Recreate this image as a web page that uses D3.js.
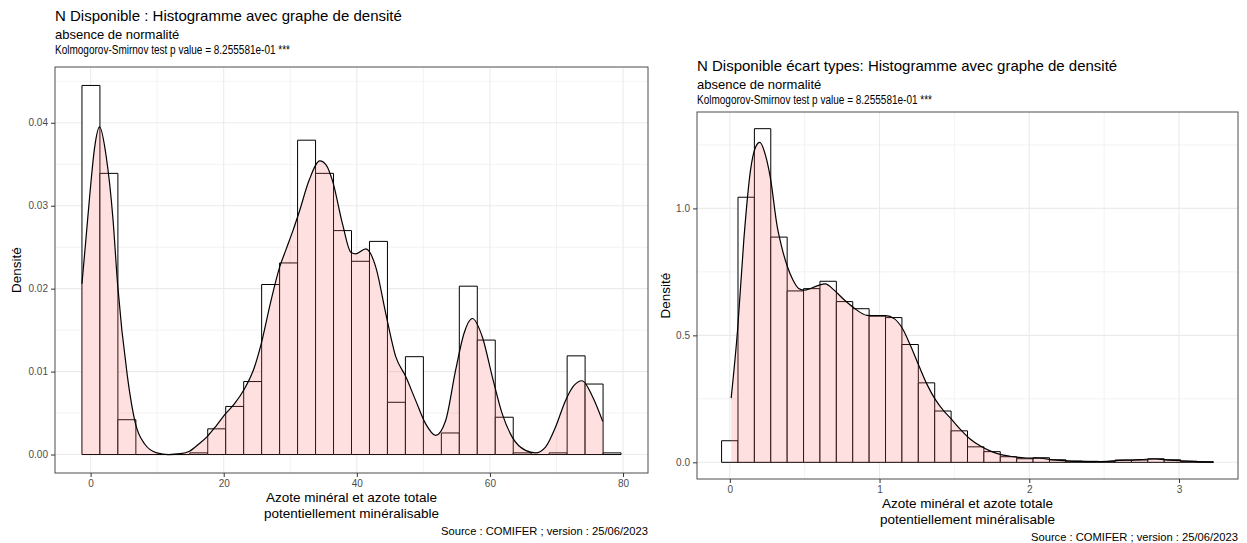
<!DOCTYPE html>
<html>
<head>
<meta charset="utf-8">
<script src="https://cdn.jsdelivr.net/npm/d3@7"></script>
<style>
  html, body { margin: 0; padding: 0; background: #fff; }
  svg text { font-family: "Liberation Sans", Arial, sans-serif; }
</style>
</head>
<body>
<svg id="chart" width="1247" height="543"></svg>
<script>
// ---- N disponible: histogram (density scale) with kernel density overlay ----
const leftBreaks = [-1.3, 1.4, 4.1, 6.8, 9.5, 12.2, 14.9, 17.6, 20.3, 23.0, 25.7, 28.4, 31.1, 33.8,
  36.5, 39.2, 41.9, 44.6, 47.3, 50.0, 52.7, 55.4, 58.1, 60.8, 63.5, 66.2, 68.9, 71.6, 74.3, 77.0, 79.7];
const leftHeights = [0.0445, 0.0339, 0.0042, 0, 0, 0, 0.0002, 0.0031, 0.0058, 0.0088, 0.0205, 0.0231,
  0.0379, 0.0339, 0.0270, 0.0233, 0.0257, 0.0063, 0.0118, 0, 0.0026, 0.0203, 0.0138, 0.0045,
  0.0002, 0, 0.0002, 0.0119, 0.0085, 0.0002];
const leftDensityX = [-1.3, -0.7, -0.1, 0.6, 1.35, 2.35, 3.35, 4.05, 5.5, 6.75, 8.1, 9.95, 11.7, 13.5,
  14.85, 16.3, 17.55, 18.9, 20.25, 21.6, 23.1, 24.6, 25.65, 27.0, 28.4, 29.4, 30.4, 31.4, 32.8,
  34.45, 35.4, 36.35, 37.85, 39.1, 39.85, 41.35, 42.85, 44.35, 45.85, 47.35, 48.85, 50.35, 51.85,
  53.35, 54.85, 56.1, 57.35, 58.85, 60.35, 61.85, 63.35, 65.35, 66.85, 68.35, 69.85, 71.35, 72.6,
  73.85, 75.35, 76.95];
const leftDensityY = [0.0206, 0.026, 0.0315, 0.037, 0.0395, 0.0359, 0.0285, 0.0206, 0.0096, 0.0037,
  0.0013, 0.0002, 0, 0.0001, 0.0004, 0.0013, 0.0022, 0.0035, 0.0049, 0.0061, 0.0079, 0.0105, 0.0134,
  0.0182, 0.0226, 0.0248, 0.027, 0.0294, 0.033, 0.0354, 0.0349, 0.033, 0.0278, 0.0244, 0.0242,
  0.0248, 0.0226, 0.017, 0.0118, 0.0094, 0.0065, 0.0037, 0.0023, 0.0041, 0.0102, 0.0146, 0.0164,
  0.0142, 0.0094, 0.0049, 0.0021, 0.0005, 0.0002, 0.0009, 0.0033, 0.0065, 0.0083, 0.0089, 0.0071,
  0.004];
const leftXTicks = [0, 20, 40, 60, 80];
const leftXMinor = [10, 30, 50, 70];
const leftYTicks = [0, 0.01, 0.02, 0.03, 0.04];
const leftYMinor = [0.005, 0.015, 0.025, 0.035, 0.045];

// ---- N disponible en écart types ----
const rightBreaks = [-0.055, 0.0545, 0.164, 0.2735, 0.383, 0.4925, 0.602, 0.7115, 0.821, 0.9305,
  1.04, 1.1495, 1.259, 1.3685, 1.478, 1.5875, 1.697, 1.8065, 1.916, 2.0255, 2.135, 2.2445, 2.354,
  2.4635, 2.573, 2.6825, 2.792, 2.9015, 3.011, 3.1205, 3.23];
const rightHeights = [0.085, 1.044, 1.314, 0.887, 0.675, 0.684, 0.713, 0.633, 0.605, 0.576, 0.570,
  0.464, 0.313, 0.202, 0.124, 0.061, 0.042, 0.022, 0.014, 0.018, 0.010, 0.005, 0.004, 0.003, 0.009,
  0.009, 0.014, 0.010, 0.004, 0.002];
const rightDensityX = [0.009, 0.053, 0.094, 0.138, 0.171, 0.2, 0.238, 0.271, 0.316, 0.35, 0.385,
  0.42, 0.46, 0.5, 0.583, 0.638, 0.693, 0.76, 0.827, 0.916, 0.97, 1.04, 1.1, 1.153, 1.208, 1.263,
  1.317, 1.372, 1.43, 1.471, 1.538, 1.605, 1.671, 1.738, 1.805, 1.893, 1.98, 2.07, 2.16, 2.25,
  2.34, 2.43, 2.52, 2.6, 2.69, 2.78, 2.84, 2.93, 3.02, 3.13, 3.23];
const rightDensityY = [0.253, 0.53, 0.88, 1.15, 1.24, 1.26, 1.21, 1.12, 0.93, 0.84, 0.77, 0.72,
  0.685, 0.678, 0.695, 0.703, 0.68, 0.642, 0.609, 0.579, 0.578, 0.578, 0.565, 0.527, 0.458, 0.38,
  0.307, 0.248, 0.202, 0.176, 0.131, 0.092, 0.065, 0.045, 0.031, 0.022, 0.017, 0.016, 0.010, 0.006,
  0.004, 0.003, 0.004, 0.008, 0.009, 0.012, 0.013, 0.009, 0.006, 0.003, 0.001];
const rightXTicks = [0, 1, 2, 3];
const rightXMinor = [0.5, 1.5, 2.5];
const rightYTicks = [0, 0.5, 1.0];
const rightYMinor = [0.25, 0.75, 1.25];

const subtitle = "absence de normalité";
const ksLine = "Kolmogorov-Smirnov test p value = 8.255581e-01 ***";
const xTitle = ["Azote minéral et azote totale", "potentiellement minéralisable"];
const yTitle = "Densité";
const caption = "Source : COMIFER ; version : 25/06/2023";

const svg = d3.select("#chart");

function drawPanel(cfg) {
  const g = svg.append("g");
  const { left, right, top, bottom } = cfg.box;

  const lo = cfg.breaks[0], hi = cfg.breaks[cfg.breaks.length - 1];
  const padX = (hi - lo) * 0.05;
  const x = d3.scaleLinear().domain([lo - padX, hi + padX]).range([left, right]);
  const ymax = d3.max(cfg.heights);
  const y = d3.scaleLinear().domain([-ymax * 0.05, ymax * 1.05]).range([bottom, top]);

  // grid
  const grid = g.append("g");
  cfg.yMinor.forEach(v => grid.append("line")
    .attr("x1", left).attr("x2", right).attr("y1", y(v)).attr("y2", y(v))
    .attr("stroke", "#ebebeb").attr("stroke-width", 0.6));
  cfg.xMinor.forEach(v => grid.append("line")
    .attr("y1", top).attr("y2", bottom).attr("x1", x(v)).attr("x2", x(v))
    .attr("stroke", "#ebebeb").attr("stroke-width", 0.6));
  cfg.yTicks.forEach(v => grid.append("line")
    .attr("x1", left).attr("x2", right).attr("y1", y(v)).attr("y2", y(v))
    .attr("stroke", "#ebebeb").attr("stroke-width", 1.1));
  cfg.xTicks.forEach(v => grid.append("line")
    .attr("y1", top).attr("y2", bottom).attr("x1", x(v)).attr("x2", x(v))
    .attr("stroke", "#ebebeb").attr("stroke-width", 1.1));

  // histogram bars (white fill, black outline)
  const bins = cfg.heights.map((h, i) => ({ x0: cfg.breaks[i], x1: cfg.breaks[i + 1], h }));
  g.append("g").selectAll("path").data(bins).join("path")
    .attr("d", d => {
      const x0 = x(d.x0), x1 = x(d.x1), y0 = y(0), y1 = y(d.h);
      return `M${x0},${y0}L${x0},${y1}L${x1},${y1}L${x1},${y0}Z`;
    })
    .attr("fill", "#ffffff")
    .attr("stroke", "#000")
    .attr("stroke-width", 1);

  // density area, translucent pink, plus its upper outline
  const pts = cfg.densX.map((v, i) => [v, cfg.densY[i]]);
  g.append("path").datum(pts)
    .attr("d", d3.area().x(d => x(d[0])).y0(y(0)).y1(d => y(d[1])).curve(d3.curveMonotoneX))
    .attr("fill", "#ff6666").attr("fill-opacity", 0.2);
  g.append("path").datum(pts)
    .attr("d", d3.line().x(d => x(d[0])).y(d => y(d[1])).curve(d3.curveMonotoneX))
    .attr("fill", "none").attr("stroke", "#000").attr("stroke-width", 1.2);

  // panel border
  g.append("rect").attr("x", left).attr("y", top)
    .attr("width", right - left).attr("height", bottom - top)
    .attr("fill", "none").attr("stroke", "#4d4d4d").attr("stroke-width", 1);

  // axes
  const yAxis = d3.axisLeft(y).tickValues(cfg.yTicks).tickFormat(cfg.yFormat).tickSize(4).tickPadding(3);
  const ya = g.append("g").attr("transform", `translate(${left},0)`).call(yAxis);
  const xAxis = d3.axisBottom(x).tickValues(cfg.xTicks).tickFormat(d3.format("d")).tickSize(4).tickPadding(3);
  const xa = g.append("g").attr("transform", `translate(0,${bottom})`).call(xAxis);
  [ya, xa].forEach(a => {
    a.select(".domain").remove();
    a.selectAll(".tick line").attr("stroke", "#333");
    a.selectAll(".tick text").attr("fill", "#4d4d4d").style("font-size", "10px")
      .style("font-family", "'Liberation Sans', Arial, sans-serif");
  });

  // titles
  g.append("text").attr("x", left).attr("y", cfg.titleY)
    .style("font-size", "15px").attr("fill", "#000").text(cfg.title);
  g.append("text").attr("x", left).attr("y", cfg.titleY + 18)
    .style("font-size", "13px").attr("fill", "#000").text(subtitle);
  g.append("text").attr("x", left).attr("y", cfg.titleY + 33)
    .style("font-size", "12.5px").attr("fill", "#000")
    .attr("textLength", 235).attr("lengthAdjust", "spacingAndGlyphs").text(ksLine);

  const cx = (left + right) / 2;
  xTitle.forEach((t, i) => g.append("text")
    .attr("x", cx).attr("y", bottom + 29 + i * 15.5)
    .attr("text-anchor", "middle").style("font-size", "13.5px").attr("fill", "#000").text(t));

  g.append("text")
    .attr("transform", `translate(${cfg.yTitleX},${(top + bottom) / 2}) rotate(-90)`)
    .attr("text-anchor", "middle").style("font-size", "13.5px").attr("fill", "#000").text(yTitle);

  g.append("text").attr("x", right).attr("y", bottom + 62)
    .attr("text-anchor", "end").style("font-size", "11px").attr("fill", "#000")
    .attr("textLength", 207).attr("lengthAdjust", "spacingAndGlyphs").text(caption);
}

drawPanel({
  box: { left: 55, right: 648, top: 67, bottom: 473 },
  breaks: leftBreaks, heights: leftHeights, densX: leftDensityX, densY: leftDensityY,
  xTicks: leftXTicks, xMinor: leftXMinor, yTicks: leftYTicks, yMinor: leftYMinor,
  yFormat: d3.format(".2f"),
  title: "N Disponible : Histogramme avec graphe de densité",
  titleY: 21, yTitleX: 21
});

drawPanel({
  box: { left: 697, right: 1238, top: 112, bottom: 479 },
  breaks: rightBreaks, heights: rightHeights, densX: rightDensityX, densY: rightDensityY,
  xTicks: rightXTicks, xMinor: rightXMinor, yTicks: rightYTicks, yMinor: rightYMinor,
  yFormat: d3.format(".1f"),
  title: "N Disponible écart types: Histogramme avec graphe de densité",
  titleY: 71, yTitleX: 670
});
</script>
</body>
</html>
